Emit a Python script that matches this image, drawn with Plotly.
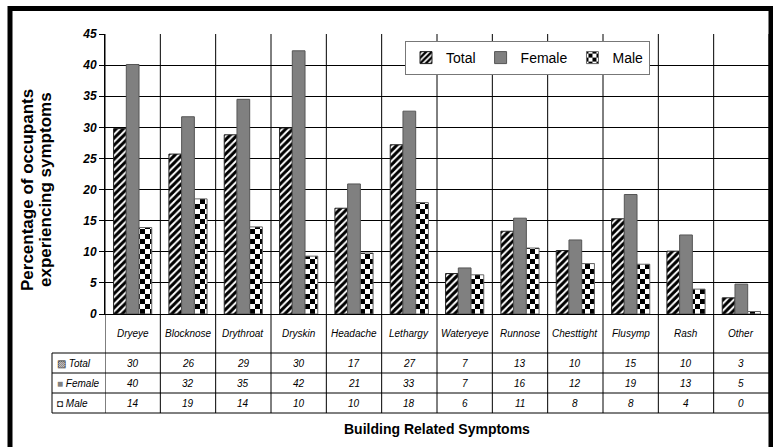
import plotly.graph_objects as go

categories = ["Dryeye", "Blocknose", "Drythroat", "Dryskin", "Headache", "Lethargy",
              "Wateryeye", "Runnose", "Chesttight", "Flusymp", "Rash", "Other"]
total = [29.8, 25.7, 28.8, 29.9, 17.0, 27.2, 6.5, 13.3, 10.2, 15.3, 10.1, 2.6]
female = [40.1, 31.7, 34.5, 42.3, 20.9, 32.6, 7.4, 15.4, 11.9, 19.2, 12.7, 4.8]
male = [13.9, 18.5, 14.0, 9.3, 9.8, 17.9, 6.3, 10.6, 8.1, 8.0, 4.0, 0.4]

table_total = ["30", "26", "29", "30", "17", "27", "7", "13", "10", "15", "10", "3"]
table_female = ["40", "32", "35", "42", "21", "33", "7", "16", "12", "19", "13", "5"]
table_male = ["14", "19", "14", "10", "10", "18", "6", "11", "8", "8", "4", "0"]

W, H = 773, 447
L, R, T, B = 105, 4, 34, 133
PW, PH = W - L - R, H - T - B


def px_x(p):
    return (p - L) / PW


def px_y(p):
    return (T + PH - p) / PH


FONT = "Liberation Sans, Arial, sans-serif"

fig = go.Figure()
fig.add_bar(x=categories, y=total, name="Total",
            marker=dict(color="white",
                        pattern=dict(shape="/", fgcolor="black", bgcolor="white", size=5,
                                     solidity=0.6, fgopacity=1),
                        line=dict(color="#222222", width=1)))
fig.add_bar(x=categories, y=female, name="Female",
            marker=dict(color="#808080", line=dict(color="#555555", width=1)))
fig.add_bar(x=categories, y=male, name="Male",
            marker=dict(color="white",
                        pattern=dict(shape=".", fgcolor="black", bgcolor="white", size=10, solidity=0.5),
                        line=dict(color="#666666", width=1)))

shapes = []
for i in range(len(categories) + 1):
    shapes.append(dict(type="line", xref="x", yref="paper", x0=i - 0.5, x1=i - 0.5,
                       y0=px_y(413), y1=1, line=dict(color="black", width=1), layer="below"))
for yy in [353, 373, 393, 413]:
    shapes.append(dict(type="line", xref="paper", yref="paper", x0=px_x(52), x1=1,
                       y0=px_y(yy), y1=px_y(yy), line=dict(color="black", width=1)))
shapes.append(dict(type="line", xref="paper", yref="paper", x0=px_x(52), x1=px_x(52),
                   y0=px_y(353), y1=px_y(413), line=dict(color="black", width=1)))
shapes.append(dict(type="rect", xref="paper", yref="paper", x0=px_x(10), x1=px_x(771),
                   y0=px_y(470), y1=px_y(8.5), line=dict(color="black", width=5)))

annotations = []
for i, c in enumerate(categories):
    annotations.append(dict(x=i, xref="x", y=px_y(333), yref="paper", text="<i>%s</i>" % c,
                            xanchor="center", yanchor="middle",
                            showarrow=False, font=dict(family=FONT, size=10, color="black")))
rows = [("Total", table_total, 363, "<span style='color:#222'>▨</span>"),
        ("Female", table_female, 383, "<span style='color:#808080'>■</span>"),
        ("Male", table_male, 403, "<span style='color:#222'>◘</span>")]
for name, vals, yy, icon in rows:
    annotations.append(dict(x=px_x(55), xref="paper", y=px_y(yy), yref="paper", xanchor="left",
                            yanchor="middle",
                            text="%s <i>%s</i>" % (icon, name), showarrow=False,
                            font=dict(family=FONT, size=10, color="black")))
    for i, v in enumerate(vals):
        annotations.append(dict(x=i, xref="x", y=px_y(yy), yref="paper", text="<i>%s</i>" % v,
                                xanchor="center", yanchor="middle",
                                showarrow=False, font=dict(family=FONT, size=10, color="black")))
annotations.append(dict(x=px_x(437), xref="paper", y=px_y(429), yref="paper",
                        xanchor="center", yanchor="middle",
                        text="<b>Building Related Symptoms</b>", showarrow=False,
                        font=dict(family=FONT, size=14, color="black")))
for txt, xp in [("Percentage of occupants", 27), ("experiencing symptoms", 45)]:
    annotations.append(dict(x=px_x(xp), xref="paper", y=px_y(190), yref="paper", textangle=-90,
                            xanchor="center", yanchor="middle",
                            text="<b>%s</b>" % txt, showarrow=False,
                            font=dict(family=FONT, size=17, color="black")))

fig.update_layout(
    width=W, height=H,
    margin=dict(l=L, r=R, t=T, b=B, autoexpand=False),
    paper_bgcolor="white", plot_bgcolor="white",
    barmode="group", bargap=0.31, bargroupgap=0,
    font=dict(family=FONT, color="black"),
    showlegend=True,
    legend=dict(orientation="h", x=px_x(405), y=px_y(41), xanchor="left", yanchor="top",
                bgcolor="white", bordercolor="#777777", borderwidth=1,
                font=dict(family=FONT, size=14, color="black"), itemwidth=30,
                tracegroupgap=0),
    shapes=shapes, annotations=annotations,
)
fig.update_xaxes(showticklabels=False, showgrid=False, showline=True, linecolor="black",
                 linewidth=1, ticks="", range=[-0.5, len(categories) - 0.5])
fig.update_yaxes(range=[0, 45], dtick=5, showgrid=True, gridcolor="black", gridwidth=1,
                 showline=True, linecolor="black", linewidth=1, ticks="outside", ticklen=5,
                 tickcolor="black", zeroline=False,
                 tickfont=dict(family=FONT, size=12, color="black", weight="bold", style="italic"))

post = """
document.body.style.margin = '0';
document.body.style.padding = '0';
var gd = document.getElementById('{plot_id}');
function checker(){
  var ns = 'http://www.w3.org/2000/svg';
  document.querySelectorAll('pattern').forEach(function(p){
    if (p.querySelector('circle')) {
      while (p.firstChild) p.removeChild(p.firstChild);
      p.setAttribute('width', 10); p.setAttribute('height', 10);
      p.removeAttribute('viewBox');
      var r0 = document.createElementNS(ns, 'rect');
      r0.setAttribute('x', 0); r0.setAttribute('y', 0); r0.setAttribute('width', 10); r0.setAttribute('height', 10);
      r0.setAttribute('fill', 'white'); p.appendChild(r0);
      [[0,0],[5,5]].forEach(function(q){
        var r = document.createElementNS(ns, 'rect');
        r.setAttribute('x', q[0]); r.setAttribute('y', q[1]); r.setAttribute('width', 5); r.setAttribute('height', 5);
        r.setAttribute('fill', 'black'); p.appendChild(r);
      });
    }
  });
}
checker();
if (gd && gd.on) gd.on('plotly_afterplot', checker);
"""
fig.write_html("out.html", post_script=post, config={"displayModeBar": False})
